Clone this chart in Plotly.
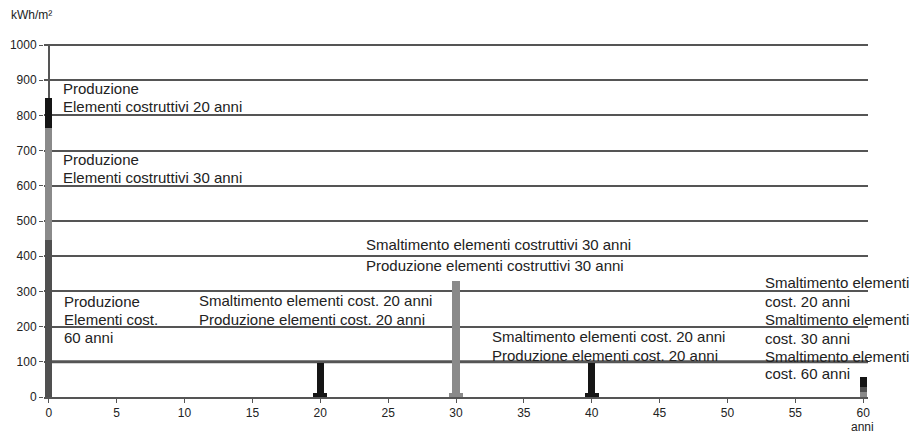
import plotly.graph_objects as go

# ---- data (kWh/m2 per year) ----
years_prod_60 = [0]
prod_60 = [445]            # Produzione elementi cost. 60 anni
years_prod_30 = [0, 30]
prod_30 = [320, 318]       # Produzione elementi costruttivi 30 anni
years_prod_20 = [0, 20, 40]
prod_20 = [85, 84, 84]     # Produzione elementi costruttivi 20 anni

years_smalt_20 = [20, 40, 60]
smalt_20 = [12, 12, 30]    # Smaltimento elementi cost. 20 anni
years_smalt_30 = [30, 60]
smalt_30 = [12, 15]        # Smaltimento elementi cost. 30 anni
years_smalt_60 = [60]
smalt_60 = [13]            # Smaltimento elementi cost. 60 anni

x_ticks = list(range(0, 61, 5))
y_ticks = list(range(0, 1001, 100))

BLACK = "#151515"
GRAY = "#8a8a8a"
DARK = "#505050"
FONT = "Liberation Sans, Arial, sans-serif"

fig = go.Figure()

def w_for(xs):
    return [0.55 if x in (0, 60) else 1.05 for x in xs]

fig.add_bar(x=years_smalt_30, y=smalt_30, marker_color=GRAY, width=w_for(years_smalt_30))
fig.add_bar(x=years_smalt_60, y=smalt_60, marker_color=DARK, width=w_for(years_smalt_60))
fig.add_bar(x=years_smalt_20, y=smalt_20, marker_color=BLACK, width=w_for(years_smalt_20))
fig.add_bar(x=years_prod_60, y=prod_60, marker_color=DARK, width=0.55)
fig.add_bar(x=years_prod_30, y=prod_30, marker_color=GRAY, width=0.55)
fig.add_bar(x=years_prod_20, y=prod_20, marker_color=BLACK, width=0.55)
fig.update_traces(marker_line_width=0, showlegend=False, hoverinfo="skip")

OFF = 8  # page body margin
FW, FH = 920 - OFF, 435 - OFF
# plot area in page pixels
L, R, T, B = 44, 868, 44, 397
W, H = R - L, B - T

def px(x, y):
    return (x - L) / W, (B - y) / H

labels = [
    ("Produzione", 61, 88), ("Elementi costruttivi 20 anni", 61, 106),
    ("Produzione", 61, 159), ("Elementi costruttivi 30 anni", 61, 177),
    ("Produzione", 62, 301), ("Elementi cost.", 62, 319), ("60 anni", 62, 337),
    ("Smaltimento elementi cost. 20 anni", 197, 300), ("Produzione elementi cost. 20 anni", 197, 319),
    ("Smaltimento elementi costruttivi 30 anni", 364, 245), ("Produzione elementi costruttivi 30 anni", 364, 265),
    ("Smaltimento elementi cost. 20 anni", 490, 336), ("Produzione elementi cost. 20 anni", 490, 355),
    ("Smaltimento elementi", 763, 282), ("cost. 20 anni", 763, 301),
    ("Smaltimento elementi", 763, 319), ("cost. 30 anni", 763, 338),
    ("Smaltimento elementi", 763, 356), ("cost. 60 anni", 763, 373),
]
annotations = []
for text, x, y in labels:
    ax, ay = px(x, y)
    annotations.append(dict(text=text, x=ax, y=ay, xref="paper", yref="paper",
                            xanchor="left", yanchor="middle", showarrow=False,
                            font=dict(size=15, color="#222", family=FONT)))
ax, ay = px(862, 427)
annotations.append(dict(text="anni", x=ax, y=ay, xref="paper", yref="paper",
                        xanchor="center", yanchor="middle", showarrow=False,
                        font=dict(size=12, color="#222", family=FONT)))
ax, ay = px(9, 15)
annotations.append(dict(text="kWh/m²", x=ax, y=ay, xref="paper", yref="paper",
                        xanchor="left", yanchor="middle", showarrow=False,
                        font=dict(size=12, color="#222", family=FONT)))

fig.update_layout(
    width=FW, height=FH,
    margin=dict(l=L - OFF, r=FW - (R - OFF), t=T - OFF, b=FH - (B - OFF), autoexpand=False),
    paper_bgcolor="white", plot_bgcolor="white",
    barmode="stack",
    annotations=annotations,
    font=dict(family=FONT, size=12, color="#222"),
    shapes=[dict(type="line", xref="paper", yref="y", x0=0.005, x1=1, y0=100, y1=100,
                 line=dict(color="#555", width=3), layer="below")],
)
fig.update_xaxes(range=[-0.35, 60.35], tickvals=x_ticks, ticks="outside", ticklen=4,
                 tickcolor="#555", showgrid=False, showline=True, linecolor="#555",
                 linewidth=2, zeroline=True, zerolinecolor="#555", zerolinewidth=2,
                 tickfont=dict(size=12, color="#222"), automargin=False)
fig.update_yaxes(range=[0, 1003], tickvals=y_ticks, ticks="outside", ticklen=4,
                 tickcolor="#555", showgrid=True, gridcolor="#555", gridwidth=2,
                 showline=False, zeroline=False, tickfont=dict(size=12, color="#222"),
                 automargin=False)

fig.write_html("out.html")
